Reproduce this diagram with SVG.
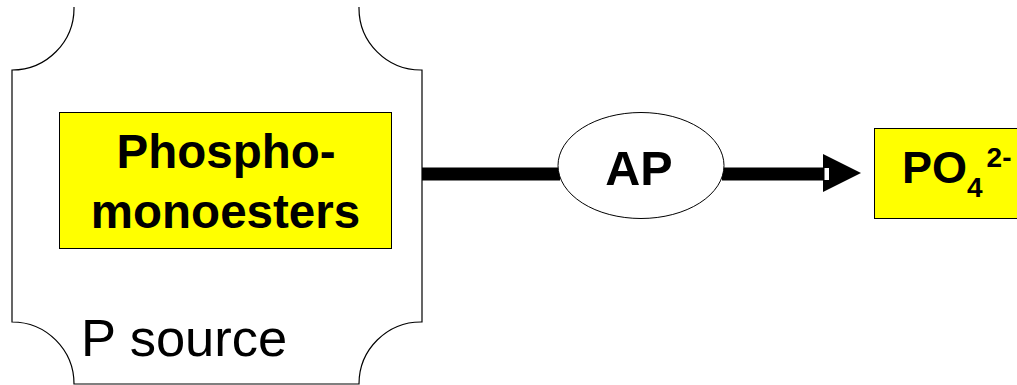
<svg xmlns="http://www.w3.org/2000/svg" width="1017" height="385" viewBox="0 0 1017 385">
<style>
.outline{fill:#fff;stroke:#000;stroke-width:1.2}
.box{fill:#ffff00;stroke:#000;stroke-width:1}
.bold{font-family:"Liberation Sans",Arial,sans-serif;font-weight:bold;fill:#000}
.reg{font-family:"Liberation Sans",Arial,sans-serif;fill:#000}
</style>
<rect width="1017" height="385" fill="#fff"/>
<g id="p-source">
<path class="outline" d="M74,7 A62,62 0 0 1 12,70 L12,322 A62,62 0 0 1 74,384 L359,384 A62,62 0 0 1 422,322 L422,70 A62,62 0 0 1 359,7"/>
<text class="reg" x="81" y="356" font-size="52.5">P source</text>
</g>
<g id="phosphomonoesters">
<rect class="box" x="59.5" y="112.5" width="332" height="136"/>
<text class="bold" x="226" y="168" font-size="47.5" text-anchor="middle">Phospho-</text>
<text class="bold" x="225.5" y="228" font-size="47.5" text-anchor="middle">monoesters</text>
</g>
<g id="connectors">
<line x1="422" y1="174" x2="560" y2="174" stroke="#000" stroke-width="13"/>
<line x1="722" y1="174" x2="826" y2="174" stroke="#000" stroke-width="13"/>
<polygon points="823,154 861,173 823,192" fill="#000"/>
<rect x="824.5" y="168" width="4.5" height="12" fill="#fff"/>
</g>
<g id="ap">
<ellipse cx="641" cy="165.5" rx="83" ry="53" fill="#fff" stroke="#000" stroke-width="1"/>
<text class="bold" x="639" y="185" font-size="48.5" text-anchor="middle">AP</text>
</g>
<g id="po4">
<rect class="box" x="874.5" y="128.5" width="160" height="90"/>
<text class="bold" x="902" y="183" font-size="45">PO<tspan font-size="28" dy="14">4</tspan><tspan font-size="28" dy="-30" dx="4">2-</tspan></text>
</g>
</svg>
